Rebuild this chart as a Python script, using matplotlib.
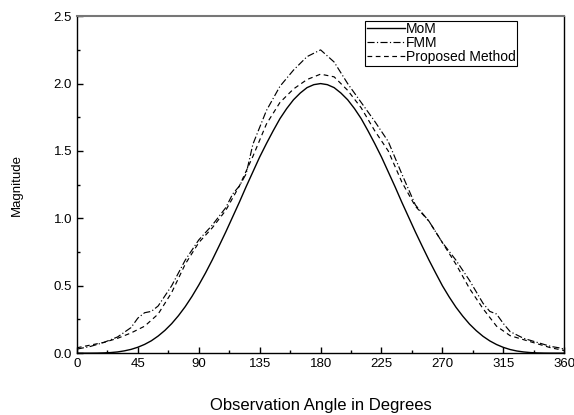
import numpy as np
import matplotlib.pyplot as plt
from matplotlib.ticker import MultipleLocator, FormatStrFormatter

# Datos
ang_mom = list(range(0, 365, 5))
mom = [0.0, 0.0, 0.0001, 0.0006, 0.002, 0.0045, 0.009, 0.017, 0.028, 0.044, 0.065, 0.092,
       0.127, 0.169, 0.219, 0.278, 0.345, 0.421, 0.505, 0.595, 0.692, 0.795, 0.90, 1.01,
       1.12, 1.235, 1.345, 1.455, 1.555, 1.65, 1.74, 1.815, 1.88, 1.93, 1.97, 1.992, 2.0,
       1.992, 1.97, 1.93, 1.88, 1.815, 1.74, 1.65, 1.555, 1.455, 1.345, 1.235, 1.12, 1.01,
       0.90, 0.795, 0.692, 0.595, 0.50, 0.417, 0.341, 0.275, 0.216, 0.167, 0.125, 0.091,
       0.064, 0.043, 0.027, 0.016, 0.009, 0.0044, 0.0018, 0.0006, 0.0001, 0.0, 0.0]

ang_fmm = [0, 10, 20, 30, 40, 45, 50, 55, 60, 70, 80, 90, 100, 110, 115, 120, 125, 130, 140, 150,
           160, 170, 180, 190, 200, 210, 220, 230, 240, 250, 260, 270, 280, 290, 300, 305, 310,
           315, 320, 330, 340, 350, 356, 360]
fmm = [0.03, 0.05, 0.08, 0.12, 0.19, 0.26, 0.30, 0.31, 0.35, 0.50, 0.69, 0.84, 0.95, 1.08, 1.18,
       1.24, 1.33, 1.55, 1.80, 1.98, 2.10, 2.20, 2.25, 2.16, 2.00, 1.86, 1.72, 1.57, 1.33, 1.10,
       0.98, 0.82, 0.69, 0.54, 0.37, 0.31, 0.29, 0.22, 0.16, 0.11, 0.08, 0.05, 0.04, 0.03]

ang_prop = [0, 10, 20, 30, 40, 50, 60, 70, 80, 90, 100, 110, 120, 130, 140, 150, 160, 170, 180,
            190, 200, 210, 220, 230, 240, 250, 260, 270, 280, 290, 300, 310, 320, 330, 340, 350, 360]
prop = [0.04, 0.06, 0.08, 0.11, 0.15, 0.20, 0.29, 0.45, 0.66, 0.82, 0.93, 1.06, 1.24, 1.46, 1.70,
        1.86, 1.96, 2.03, 2.07, 2.05, 1.95, 1.82, 1.65, 1.50, 1.27, 1.09, 0.98, 0.82, 0.66, 0.48,
        0.33, 0.20, 0.13, 0.10, 0.07, 0.04, 0.02]

plt.rcParams['font.family'] = ['Liberation Sans', 'DejaVu Sans']

fig = plt.figure(figsize=(5.74, 4.15), dpi=100)
ax = fig.add_axes([0.134, 0.149, 0.849, 0.812])

ax.plot(ang_mom, mom, color='black', lw=1.0, label='MoM')
ax.plot(ang_fmm, fmm, color='black', lw=0.85, dashes=(6, 2, 1, 2), label='FMM')
ax.plot(ang_prop, prop, color='black', lw=0.85, dashes=(4, 3), label='Proposed Method')

ax.set_xlim(0, 360)
ax.set_ylim(0, 2.5)
ax.xaxis.set_major_locator(MultipleLocator(45))
ax.xaxis.set_minor_locator(MultipleLocator(22.5))
ax.yaxis.set_major_locator(MultipleLocator(0.5))
ax.yaxis.set_minor_locator(MultipleLocator(0.25))
ax.yaxis.set_major_formatter(FormatStrFormatter('%.1f'))
ax.tick_params(which='both', direction='in', top=False, right=False, labelsize=9.5)
ax.tick_params(which='major', length=4, width=1)
ax.tick_params(which='minor', length=2.5, width=1)

ax.spines['top'].set_color('#777777')
ax.spines['top'].set_linewidth(1.5)
for s in ['left', 'bottom', 'right']:
    ax.spines[s].set_linewidth(1.0)

ax.set_xlabel('Observation Angle in Degrees', fontsize=12, labelpad=20)
ax.set_ylabel('Magnitude', fontsize=9.5, labelpad=22)

leg = ax.legend(loc='upper right', bbox_to_anchor=(0.904, 0.986), fontsize=10,
                frameon=True, fancybox=False, edgecolor='black', framealpha=1,
                borderpad=0.1, labelspacing=0.0, handlelength=2.75, handletextpad=0.1,
                borderaxespad=0)
leg.get_frame().set_linewidth(0.8)

plt.savefig('out.png', dpi=100)
